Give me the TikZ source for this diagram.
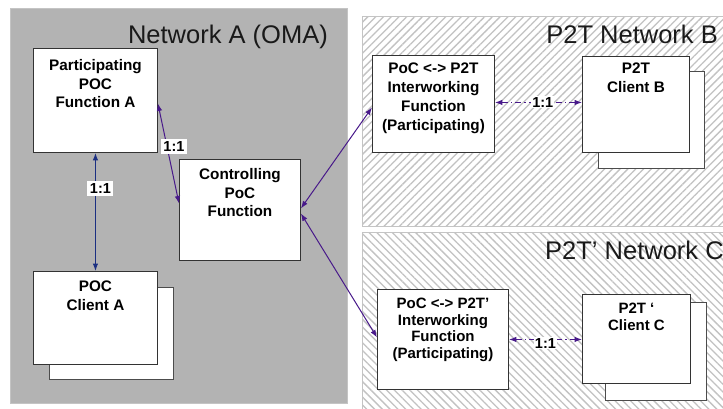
\documentclass[tikz,border=0pt]{standalone}
\usepackage{fontspec}
\setmainfont{Liberation Sans}
\usetikzlibrary{arrows.meta, positioning, patterns.meta}
\definecolor{fondgris}{HTML}{B3B3B3}
\definecolor{bordgris}{HTML}{C4C4C4}
\definecolor{hachure}{HTML}{C2C2C2}
\definecolor{pourpre}{HTML}{48198A}
\definecolor{marine}{HTML}{1B2F82}
\tikzset{
  zoneA/.style={fill=fondgris, draw=bordgris, line width=1pt},
  zonehach/.style={draw=bordgris, line width=1pt,
    pattern={Lines[angle=#1, distance=5.5pt, line width=1.3pt]}, pattern color=hachure},
  boite/.style={rectangle, draw=black!80, fill=white, line width=0.9pt,
    anchor=north west, inner sep=0pt},
  ombre/.style={boite, draw=black!70},
  texte/.style={font={\fontsize{15.3}{18.8}\selectfont\bfseries}, align=center,
    anchor=north, inner sep=0pt},
  textec/.style={texte, font={\fontsize{15}{16.6}\selectfont\bfseries}},
  titre/.style={font={\fontsize{25.5}{30}\selectfont}, inner sep=0pt, text=black!90},
  lien/.style={{Latex[length=7.5pt,width=5.5pt]}-{Latex[length=7.5pt,width=5.5pt]},
    line width=1pt, color=pourpre},
  lienbleu/.style={lien, color=marine},
  lienpoint/.style={lien, dash pattern=on 6pt off 3pt on 1.5pt off 3pt},
  ratio/.style={font={\fontsize{14.5}{16}\selectfont\bfseries}, fill=white,
    inner sep=2.5pt, text=black},
}
\begin{document}
\begin{tikzpicture}[x=1pt, y=-1pt]
  \path[use as bounding box] (0,0) rectangle (723,408);
  \clip (0,0) rectangle (723,408);
  \fill[white] (0,0) rectangle (723,408);

  % Reseaux
  \draw[zoneA] (10,8) rectangle (347,403);
  \draw[zonehach=45] (362,16) rectangle (735,226);
  \draw[zonehach=-45] (362,232) rectangle (735,415);
  \node[titre, anchor=base east] (titreA) at (328,43) {Network A (OMA)};
  \node[titre, anchor=base east] (titreB) at (718,43) {P2T Network B};
  \node[titre, anchor=base west] (titreC) at (545,259) {P2T’ Network C};

  % Reseau A
  \node[boite, minimum width=124, minimum height=104] (pfa) at (33,48) {};
  \node[texte] (tpfa) at ([yshift=-11pt]pfa.north) {Participating\\POC\\Function A};
  \node[boite, minimum width=121, minimum height=101] (ctrl) at (179,159) {};
  \node[texte] (tctrl) at ([yshift=-9pt]ctrl.north) {Controlling\\PoC\\Function};
  \node[ombre, minimum width=124, minimum height=92] (cla2) at (49,287) {};
  \node[boite, minimum width=124, minimum height=93] (cla) at (33,271) {};
  \node[texte] (tcla) at ([yshift=-10pt]cla.north) {POC\\Client A};

  % Reseau B
  \node[boite, minimum width=122, minimum height=97] (iwfb) at (372,55) {};
  \node[texte] (tiwfb) at ([yshift=-8pt]iwfb.north) {PoC <-> P2T\\Interworking\\Function\\(Participating)};
  \node[ombre, minimum width=106, minimum height=97] (clib2) at (598,71) {};
  \node[boite, minimum width=107, minimum height=96] (clib) at (582,56) {};
  \node[texte] (tclib) at ([yshift=-7pt]clib.north) {P2T\\Client B};

  % Reseau C
  \node[boite, minimum width=131, minimum height=100] (iwfc) at (377,289) {};
  \node[textec] (tiwfc) at ([yshift=-9pt]iwfc.north) {PoC <-> P2T’\\Interworking\\Function\\(Participating)};
  \node[ombre, minimum width=101, minimum height=98] (clic2) at (605,302) {};
  \node[boite, minimum width=108, minimum height=89] (clic) at (582,294) {};
  \node[textec] (tclic) at ([yshift=-9pt]clic.north) {P2T ‘\\Client C};

  % Liens
  \draw[lienbleu] (pfa.south) -- node[ratio, pos=0.3, xshift=5pt] (r1) {1:1} (cla.north);
  \draw[lien] ([yshift=-3pt]pfa.east) -- node[ratio, pos=0.43, xshift=7pt] (r2) {1:1} ([yshift=6.5pt]ctrl.west);
  \draw[lien] ([yshift=1.5pt]ctrl.east) -- ([yshift=-3.5pt]iwfb.west);
  \draw[lien] ([yshift=-3.5pt]ctrl.east) -- ([yshift=2pt]iwfc.west);
  \draw[lienpoint] ([yshift=1.5pt]iwfb.east) -- node[ratio, pos=0.55, inner sep=1pt] (r3) {1:1} ([yshift=1.5pt]iwfb.east -| clib.west);
  \draw[lienpoint] (iwfc.east) -- node[ratio, yshift=-4pt, inner sep=1pt] (r4) {1:1} (iwfc.east -| clic.west);
\end{tikzpicture}
\end{document}
